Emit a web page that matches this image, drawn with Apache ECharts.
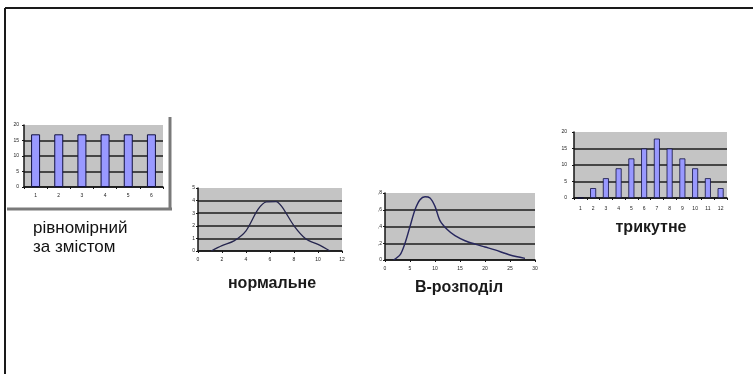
<!DOCTYPE html>
<html>
<head>
<meta charset="utf-8">
<script src="https://cdn.jsdelivr.net/npm/echarts@6/dist/echarts.min.js"></script>
<style>
html,body{margin:0;padding:0;background:#fff;}
#c{width:753px;height:374px;}
</style>
</head>
<body>
<div id="c"></div>
<script>
// ---- data ----
var uniformCats = ['1','2','3','4','5','6'];
var uniformVals = [17,17,17,17,17,17];

var normalPts = [[1.1,0],[2,0.42],[3,0.8],[4,1.6],[5,3.3],[5.7,3.9],[6.5,3.92],[7,3.5],[8,2.0],[9,0.95],[10,0.52],[11,0]];

var betaPts = [[1.7,0],[3,0.06],[4,0.2],[5,0.4],[6,0.6],[7,0.72],[8,0.755],[9,0.74],[10,0.64],[11,0.47],[12.5,0.36],[14,0.29],[16,0.23],[18,0.19],[20,0.155],[22,0.12],[25,0.06],[28,0.02]];

var triCats = ['1','2','3','4','5','6','7','8','9','10','11','12'];
var triVals = [0,3,6,9,12,15,18,15,12,9,6,3];

var captions = ['рівномірний', 'за змістом', 'нормальне', 'В-розподіл', 'трикутне'];

// ---- styles ----
var FONT = '"Liberation Sans", Arial, sans-serif';
var axisLine = {show:true, onZero:false, lineStyle:{color:'#151515', width:1.5}};
var axisTick = {show:true, length:2, lineStyle:{color:'#151515', width:1}};
function lbl(m){ return {fontSize:5, color:'#222', fontFamily:FONT, margin:m}; }
var split = {show:true, showMaxLine:false, lineStyle:{color:'#1c1c1c', width:1.6}};
var plotBg = '#c4c4c4';

function grid(l,t,w,h){ return {left:l, top:t, width:w, height:h, show:true, backgroundColor:plotBg, borderWidth:0}; }

var chart = echarts.init(document.getElementById('c'), null, {renderer:'canvas'});
chart.setOption({
  animation:false,
  backgroundColor:'#fff',
  grid:[ grid(24,125,139,62), grid(198,188,144,63), grid(385,193,150,67), grid(574,132,153,66) ],
  xAxis:[
    {gridIndex:0, type:'category', data:uniformCats, axisLine:axisLine, axisTick:{show:true,length:2,lineStyle:{color:'#151515'}}, axisLabel:lbl(6), splitLine:{show:false}},
    {gridIndex:1, type:'value', min:0, max:12, interval:2, axisLine:axisLine, axisTick:axisTick, axisLabel:lbl(6), splitLine:{show:false}},
    {gridIndex:2, type:'value', min:0, max:30, interval:5, axisLine:axisLine, axisTick:axisTick, axisLabel:lbl(6), splitLine:{show:false}},
    {gridIndex:3, type:'category', data:triCats, axisLine:axisLine, axisTick:{show:true,length:2,lineStyle:{color:'#151515'}}, axisLabel:Object.assign(lbl(8),{interval:0}), splitLine:{show:false}}
  ],
  yAxis:[
    {gridIndex:0, type:'value', min:0, max:20, interval:5, axisLine:axisLine, axisTick:axisTick, axisLabel:lbl(5), splitLine:split},
    {gridIndex:1, type:'value', min:0, max:5, interval:1, axisLine:axisLine, axisTick:axisTick, axisLabel:lbl(3), splitLine:split},
    {gridIndex:2, type:'value', min:0, max:0.8, interval:0.2, axisLine:axisLine, axisTick:axisTick, axisLabel:Object.assign(lbl(3),{formatter:function(v){return String(v).replace('0.', ',');}}), splitLine:split},
    {gridIndex:3, type:'value', min:0, max:20, interval:5, axisLine:axisLine, axisTick:axisTick, axisLabel:lbl(7), splitLine:split}
  ],
  series:[
    {type:'bar', xAxisIndex:0, yAxisIndex:0, data:uniformVals, barWidth:9,
      itemStyle:{color:'#9999ff', borderColor:'#101040', borderWidth:1}},
    {type:'line', xAxisIndex:1, yAxisIndex:1, data:normalPts, smooth:0.3, showSymbol:false,
      lineStyle:{color:'#26264e', width:1.3}},
    {type:'line', xAxisIndex:2, yAxisIndex:2, data:betaPts, smooth:0.3, showSymbol:false,
      lineStyle:{color:'#27275e', width:1.4}},
    {type:'bar', xAxisIndex:3, yAxisIndex:3, data:triVals, barWidth:6,
      itemStyle:{color:'#9999ff', borderColor:'#101040', borderWidth:0.8}}
  ],
  graphic:[
    {type:'line', shape:{x1:5, y1:8, x2:753, y2:8}, style:{stroke:'#1a1a1a', lineWidth:2}},
    {type:'line', shape:{x1:5, y1:8, x2:5, y2:374}, style:{stroke:'#1a1a1a', lineWidth:2}},
    {type:'line', shape:{x1:170, y1:117, x2:170, y2:210}, style:{stroke:'#7a7a7a', lineWidth:3}},
    {type:'line', shape:{x1:7, y1:209, x2:172, y2:209}, style:{stroke:'#7a7a7a', lineWidth:3}},
    {type:'text', left:33, top:220, style:{text:captions[0], font:'17px '+FONT, fill:'#111'}},
    {type:'text', left:33, top:239, style:{text:captions[1], font:'17px '+FONT, fill:'#111'}},
    {type:'text', x:272, y:284, style:{text:captions[2], font:'bold 16px '+FONT, fill:'#1a1a1a', align:'center', verticalAlign:'middle'}},
    {type:'text', x:459, y:288, style:{text:captions[3], font:'bold 16px '+FONT, fill:'#1a1a1a', align:'center', verticalAlign:'middle'}},
    {type:'text', x:651, y:228, style:{text:captions[4], font:'bold 16px '+FONT, fill:'#1a1a1a', align:'center', verticalAlign:'middle'}}
  ]
});
</script>
</body>
</html>
